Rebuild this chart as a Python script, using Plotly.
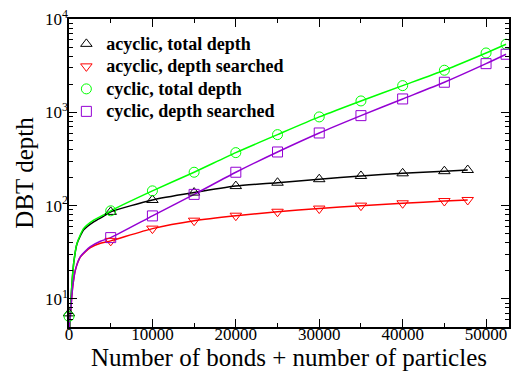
import plotly.graph_objects as go

# ---- data ----
n_acyc = [0, 5000, 10000, 15000, 20000, 25000, 30000, 35000, 40000, 45000, 47800]
acyc_total = [7.0, 85.7, 115, 138, 162, 176, 192, 208, 222, 234, 241]
n_acyc_s = [5000, 10000, 15000, 20000, 25000, 30000, 35000, 40000, 45000, 47800]
acyc_search = [41.9, 56.7, 69, 78, 86, 93, 100, 106, 112, 115]

n_cyc = [0, 5000, 10000, 15000, 20000, 25000, 30000, 35000, 40000, 45000, 50000, 52400]
cyc_total = [6.5, 88, 144, 228, 370, 577, 893, 1325, 1933, 2827, 4330, 5370]
n_cyc_s = [5000, 10000, 15000, 20000, 25000, 30000, 35000, 40000, 45000, 50000, 52400]
cyc_search = [45.4, 77.6, 132, 228, 376, 601, 922, 1392, 2102, 3326, 4195]

# fitted curves
fit_n_tot = [80, 170, 240, 360, 560, 960, 1760, 2960, 4160]
fit_cyc_tot = [4.5, 7.0, 9.8, 14.7, 24, 39.5, 57, 70, 79.5]
fit_acyc_tot = [4.5, 7.0, 9.8, 14.7, 24, 39, 55, 67, 77]
fit_n_s = [40, 84, 240, 444, 768, 1368, 2568, 3768]
fit_cyc_s = [3.5, 5.5, 8.3, 13.5, 20.5, 28.4, 36.3, 41.5]
fit_acyc_s = [3.5, 5.5, 8.3, 13.5, 20.5, 28.2, 35.5, 39.5]

labels = ["acyclic, total depth", "acyclic, depth searched",
          "cyclic, total depth", "cyclic, depth searched"]
colors = ["black", "#ff0000", "#00ff00", "rgb(148,0,211)"]
symbols = ["triangle-up-open", "triangle-down-open", "circle-open", "square-open"]

series = [
    (n_acyc, acyc_total, fit_n_tot, fit_acyc_tot),
    (n_acyc_s, acyc_search, fit_n_s, fit_acyc_s),
    (n_cyc, cyc_total, fit_n_tot, fit_cyc_tot),
    (n_cyc_s, cyc_search, fit_n_s, fit_cyc_s),
]

fig = go.Figure()
# lines
for (xs, ys, fx, fy), c in zip(series, colors):
    lx = fx + [x for x in xs if x > 0]
    ly = fy + [y for x, y in zip(xs, ys) if x > 0]
    fig.add_trace(go.Scatter(x=lx, y=ly, mode="lines", showlegend=False,
                             line=dict(color=c, width=1.5, shape="spline", smoothing=0.6),
                             hoverinfo="skip"))
# markers
for (xs, ys, fx, fy), c, s, lab in zip(series, colors, symbols, labels):
    fig.add_trace(go.Scatter(x=xs, y=ys, mode="markers",
                             name="<span style='font-size:18px'><b>" + lab + "</b></span>",
                             cliponaxis=False,
                             marker=dict(symbol=s, size=10, color=c, line=dict(color=c, width=1))))

serif = "Liberation Serif, Times New Roman, serif"
fig.update_layout(
    width=511, height=363,
    margin=dict(l=61, r=10, t=11, b=44),
    paper_bgcolor="white", plot_bgcolor="white",
    font=dict(family=serif, color="black", size=17),
    showlegend=True,
    legend=dict(x=-0.006, y=0.972, xanchor="left", yanchor="top",
                bgcolor="rgba(0,0,0,0)", borderwidth=0,
                font=dict(family=serif, size=15, color="black"),
                tracegroupgap=0, itemwidth=30),
)
fig.update_xaxes(
    range=[0, 52750], showgrid=False, zeroline=False, automargin=False,
    showline=True, linecolor="black", linewidth=1.5, mirror="ticks",
    ticks="inside", ticklen=8, tickwidth=1, tickcolor="black",
    tickvals=[0, 10000, 20000, 30000, 40000, 50000],
    ticktext=["0", "10000", "20000", "30000", "40000", "50000"],
    tickfont=dict(size=17), ticklabelstandoff=-9, ticklabeloverflow="allow",
    minor=dict(dtick=5000, tick0=0, ticks="inside", ticklen=4, tickcolor="black", showgrid=False),
    title=dict(text="Number of bonds + number of particles", font=dict(size=25), standoff=0),
)
fig.update_yaxes(
    type="log", range=[0.699, 4.0005], showgrid=False, zeroline=False, automargin=False,
    showline=True, linecolor="black", linewidth=1.5, mirror="ticks",
    ticks="inside", ticklen=8, tickwidth=1, tickcolor="black",
    tickvals=[10, 100, 1000, 10000],
    ticktext=["10<sup>1</sup>", "10<sup>2</sup>", "10<sup>3</sup>", "10<sup>4</sup>"],
    tickfont=dict(size=17), ticklabelstandoff=-4, ticklabeloverflow="allow",
    minor=dict(dtick="D1", ticks="inside", ticklen=4, tickcolor="black", showgrid=False),
    title=dict(text="DBT depth", font=dict(size=25), standoff=4),
)
fig.write_html("out.html")
